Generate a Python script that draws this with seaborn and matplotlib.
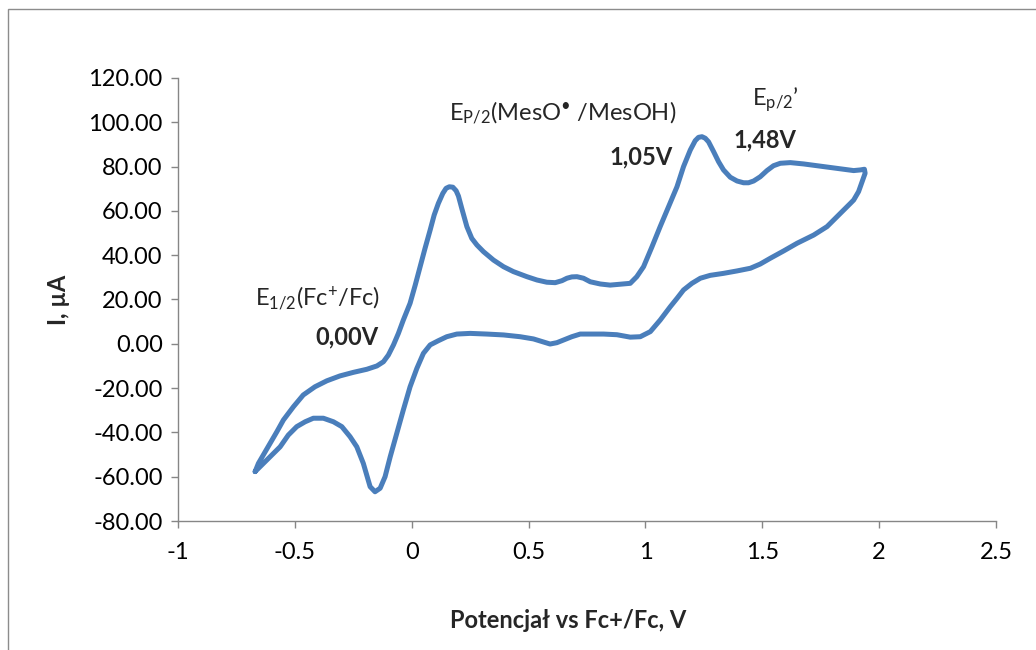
import matplotlib
matplotlib.use("Agg")
import matplotlib.pyplot as plt
from matplotlib.patches import Rectangle
import seaborn as sns
import pandas as pd

# Cyclic voltammogram: forward (oxidation) sweep, then the return sweep
potential_fwd = [-0.670, -0.656, -0.635, -0.606, -0.577, -0.549, -0.506, -0.464,
                 -0.414, -0.363, -0.307, -0.250, -0.192, -0.149, -0.121, -0.100,
                 -0.078, -0.057, -0.036, -0.007, 0.015, 0.036, 0.057, 0.079,
                 0.096, 0.114, 0.133, 0.147, 0.161, 0.176, 0.190, 0.200,
                 0.214, 0.236, 0.257, 0.279, 0.307, 0.350, 0.393, 0.435,
                 0.493, 0.536, 0.578, 0.614, 0.643, 0.664, 0.685, 0.707,
                 0.735, 0.764, 0.807, 0.849, 0.892, 0.935, 0.963, 0.992,
                 1.028, 1.063, 1.099, 1.135, 1.163, 1.192, 1.213, 1.227,
                 1.242, 1.256, 1.270, 1.292, 1.313, 1.334, 1.363, 1.392,
                 1.420, 1.441, 1.463, 1.491, 1.520, 1.548, 1.577, 1.620,
                 1.677, 1.762, 1.848, 1.891, 1.920, 1.937]
current_fwd = [-57.7, -54.0, -50.2, -44.9, -39.7, -34.4, -28.4, -23.1,
               -19.4, -16.7, -14.5, -12.9, -11.5, -10.0, -8.1, -5.1,
               -0.5, 4.7, 10.7, 18.3, 26.5, 34.8, 43.1, 51.4,
               58.1, 63.4, 67.9, 70.2, 70.9, 70.7, 69.1, 66.7,
               61.2, 52.9, 47.6, 44.6, 41.6, 37.8, 34.8, 32.6,
               30.3, 28.8, 27.8, 27.6, 28.5, 29.6, 30.2, 30.3,
               29.6, 28.0, 27.0, 26.5, 26.9, 27.3, 30.3, 34.8,
               43.8, 52.9, 61.9, 70.9, 80.0, 87.5, 91.7, 93.2,
               93.5, 92.8, 91.2, 86.7, 82.2, 78.5, 75.2, 73.5,
               72.7, 72.7, 73.5, 75.4, 78.2, 80.4, 81.5, 81.8,
               81.2, 80.0, 78.8, 78.2, 78.5, 78.8]
potential_rev = [1.940, 1.927, 1.912, 1.891, 1.877, 1.834, 1.777, 1.720,
                 1.649, 1.591, 1.534, 1.491, 1.449, 1.392, 1.334, 1.277,
                 1.235, 1.199, 1.163, 1.135, 1.106, 1.063, 1.021, 0.978,
                 0.935, 0.878, 0.821, 0.764, 0.721, 0.685, 0.649, 0.621,
                 0.592, 0.564, 0.521, 0.464, 0.393, 0.321, 0.250, 0.193,
                 0.150, 0.114, 0.079, 0.050, 0.022, -0.007, -0.036, -0.064,
                 -0.092, -0.114, -0.135, -0.157, -0.178, -0.207, -0.235, -0.264,
                 -0.299, -0.335, -0.378, -0.421, -0.456, -0.492, -0.528, -0.563,
                 -0.606, -0.649, -0.670]
current_rev = [77.0, 73.2, 68.7, 64.9, 63.4, 58.9, 52.9, 49.1,
               45.4, 41.9, 38.6, 36.0, 34.1, 32.9, 31.8, 30.9,
               29.6, 27.3, 24.3, 20.5, 16.7, 10.7, 5.5, 3.2,
               3.0, 4.1, 4.4, 4.4, 4.4, 3.2, 1.7, 0.5,
               -0.1, 0.8, 2.2, 3.2, 4.0, 4.4, 4.7, 4.4,
               3.2, 1.4, -0.5, -4.3, -11.1, -19.4, -29.9, -40.4,
               -51.0, -60.0, -65.2, -66.8, -64.5, -54.0, -46.5, -41.9,
               -37.4, -35.2, -33.6, -33.6, -35.2, -37.4, -41.2, -46.5,
               -51.0, -55.5, -57.7]

x_ticks = [-1, -0.5, 0, 0.5, 1, 1.5, 2, 2.5]
x_tick_labels = ["-1", "-0.5", "0", "0.5", "1", "1.5", "2", "2.5"]
y_ticks = [-80, -60, -40, -20, 0, 20, 40, 60, 80, 100, 120]

df = pd.DataFrame({
    "E": potential_fwd + potential_rev,
    "I": current_fwd + current_rev,
})

sns.set_theme(style="white")
plt.rcParams["font.family"] = ["Lato", "DejaVu Sans"]
plt.rcParams["mathtext.fontset"] = "custom"
plt.rcParams["mathtext.rm"] = "Lato"
plt.rcParams["mathtext.it"] = "Lato:italic"
plt.rcParams["mathtext.bf"] = "Lato:bold"
plt.rcParams["mathtext.default"] = "regular"

FS = 17
axis_grey = "#868686"
line_blue = "#4a7ebb"

fig = plt.figure(figsize=(10.36, 6.5), dpi=100)
ax = fig.add_axes([178 / 1036, 1 - 521 / 650, 818 / 1036, 443 / 650])

sns.lineplot(data=df, x="E", y="I", sort=False, estimator=None, ax=ax,
             color=line_blue, linewidth=3.6)
for ln in ax.get_lines():
    ln.set_solid_joinstyle("round")
    ln.set_solid_capstyle("round")

ax.set_xlim(-1, 2.5)
ax.set_ylim(-80, 120)
ax.set_xticks(x_ticks)
ax.set_xticklabels(x_tick_labels)
ax.set_yticks(y_ticks)
ax.set_yticklabels([f"{v:.2f}" for v in y_ticks])

for side in ("top", "right"):
    ax.spines[side].set_visible(False)
for side in ("left", "bottom"):
    ax.spines[side].set_color(axis_grey)
    ax.spines[side].set_linewidth(1.0)

ax.tick_params(axis="both", which="major", direction="out", length=5,
               width=1.0, color=axis_grey, labelsize=FS, labelcolor="black",
               left=True, bottom=True)
ax.tick_params(axis="x", pad=10)
ax.tick_params(axis="y", pad=6)

ax.set_xlabel("Potencjał vs Fc+/Fc, V", fontsize=FS, fontweight="bold")
ax.set_ylabel("I, µA", fontsize=FS, fontweight="bold")
ax.xaxis.set_label_coords(0.477, -0.199)
ax.yaxis.set_label_coords(-0.132, 0.5)

# Peak annotations
ax.text(-0.135, 20.7, r"E$_{1/2}$(Fc$^{+}$/Fc)", fontsize=FS,
        ha="right", va="center")
ax.text(-0.144, 3.1, "0,00V", fontsize=FS, fontweight="bold",
        ha="right", va="center")
ax.text(0.160, 104.2, r"E$_{P/2}$(MesO$^{•}$ /MesOH)", fontsize=FS,
        ha="left", va="center")
ax.text(1.115, 84.3, "1,05V", fontsize=FS, fontweight="bold",
        ha="right", va="center")
ax.text(1.457, 110.1, r"E$_{p/2}$’", fontsize=FS, ha="left", va="center")
ax.text(1.376, 92.0, "1,48V", fontsize=FS, fontweight="bold",
        ha="left", va="center")

# Chart frame
fig.patches.append(Rectangle((8 / 1036, -0.2), 1.5, 1.2 - 9 / 650,
                             transform=fig.transFigure, fill=False,
                             edgecolor="#8c8c8c", linewidth=1.0))

fig.savefig("out.png", dpi=100)
